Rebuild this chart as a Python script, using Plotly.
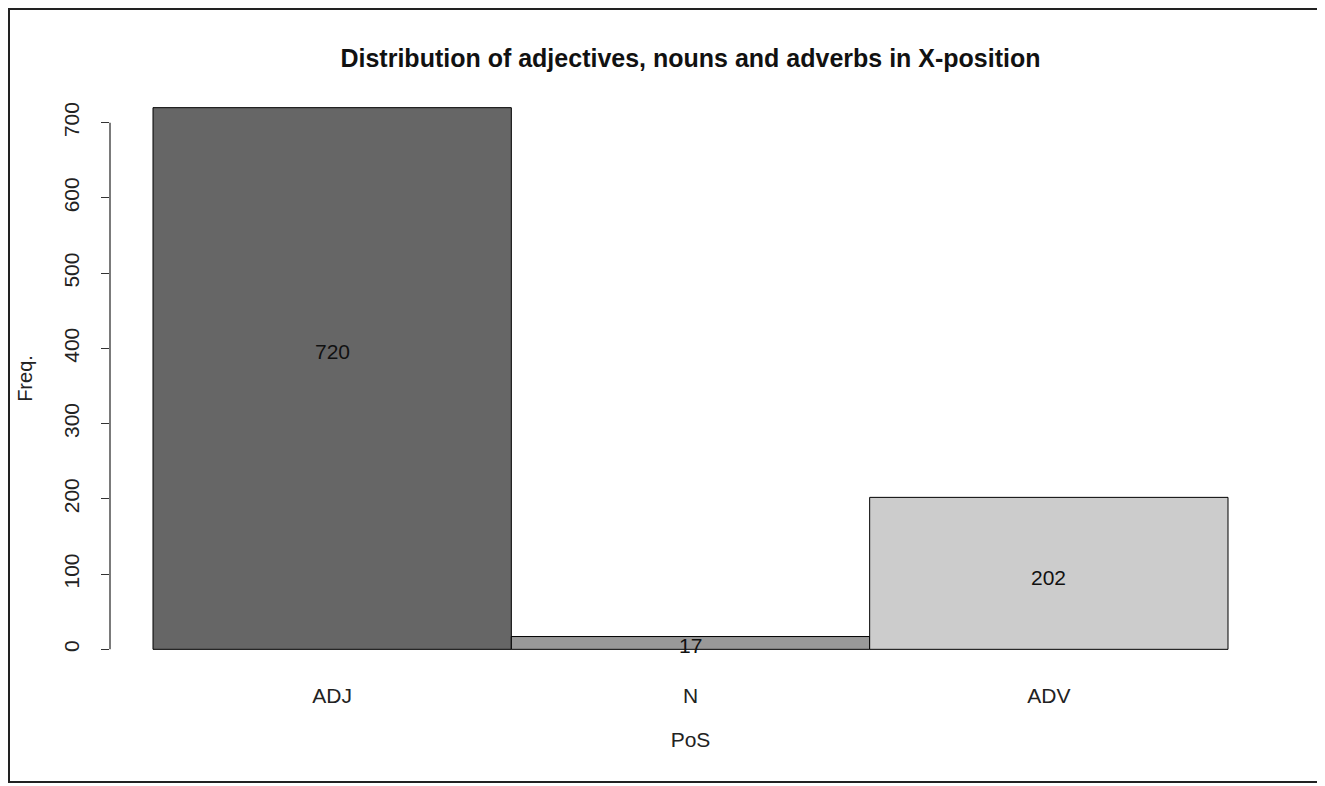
import plotly.graph_objects as go

categories = ["ADJ", "N", "ADV"]
freq = [720, 17, 202]
bar_colors = ["#666666", "#999999", "#cccccc"]
label_y = [396, 5, 96]  # heights at which the count labels sit
y_ticks = [0, 100, 200, 300, 400, 500, 600, 700]

x_pos = [i + 0.5 for i in range(len(categories))]

FONT = "Liberation Sans, Arial, sans-serif"
W, H = 1317, 778          # page body has an 8px margin
L, R, T, B = 102, 54, 78, 115
PW, PH = W - L - R, H - T - B

fig = go.Figure()
fig.add_trace(go.Bar(
    x=x_pos, y=freq, width=1,
    marker=dict(color=bar_colors, line=dict(color="black", width=1)),
    showlegend=False, hoverinfo="skip",
))

for xp, ly, v in zip(x_pos, label_y, freq):
    fig.add_annotation(x=xp, y=ly, text=str(v), showarrow=False,
                       font=dict(family=FONT, size=21, color="#111111"),
                       xref="x", yref="y")

ymax = max(freq)
fig.update_layout(
    width=W, height=H,
    margin=dict(l=L, r=R, t=T, b=B),
    paper_bgcolor="white", plot_bgcolor="white",
    font=dict(family=FONT, size=21, color="#222222"),
    title=dict(text="<b>Distribution of adjectives, nouns and adverbs in X-position</b>",
               x=0.5, xref="paper", y=1 - 50 / H, yanchor="middle",
               font=dict(family=FONT, size=25, color="#111111")),
    xaxis=dict(range=[-0.12, 3.12], tickvals=x_pos, ticktext=categories,
               showgrid=False, zeroline=False, showline=False, ticks="",
               ticklabelstandoff=10,
               title=dict(text="PoS", standoff=26, font=dict(size=21))),
    yaxis=dict(range=[-0.04 * ymax, 1.04 * ymax], tickvals=y_ticks,
               showgrid=False, zeroline=False, showline=False,
               ticks="outside", ticklen=8, tickcolor="#333333", tickwidth=1.3,
               tickangle=-90, ticklabelstandoff=14,
               title=dict(text="Freq.", standoff=21, font=dict(size=20))),
)

# y axis line spanning the tick range only (R style)
fig.add_shape(type="line", xref="paper", yref="y", x0=0, x1=0,
              y0=y_ticks[0], y1=y_ticks[-1], line=dict(color="#333333", width=1.3))

# outer frame around the whole image
fx0, fx1, fy0, fy1 = 1, 1314, 1, 774
fig.add_shape(type="rect", xref="paper", yref="paper",
              x0=(fx0 - L) / PW, x1=(fx1 - L) / PW,
              y0=(H - B - fy1) / PH, y1=(H - B - fy0) / PH,
              line=dict(color="#222222", width=2), layer="above")

fig.write_html("out.html")
